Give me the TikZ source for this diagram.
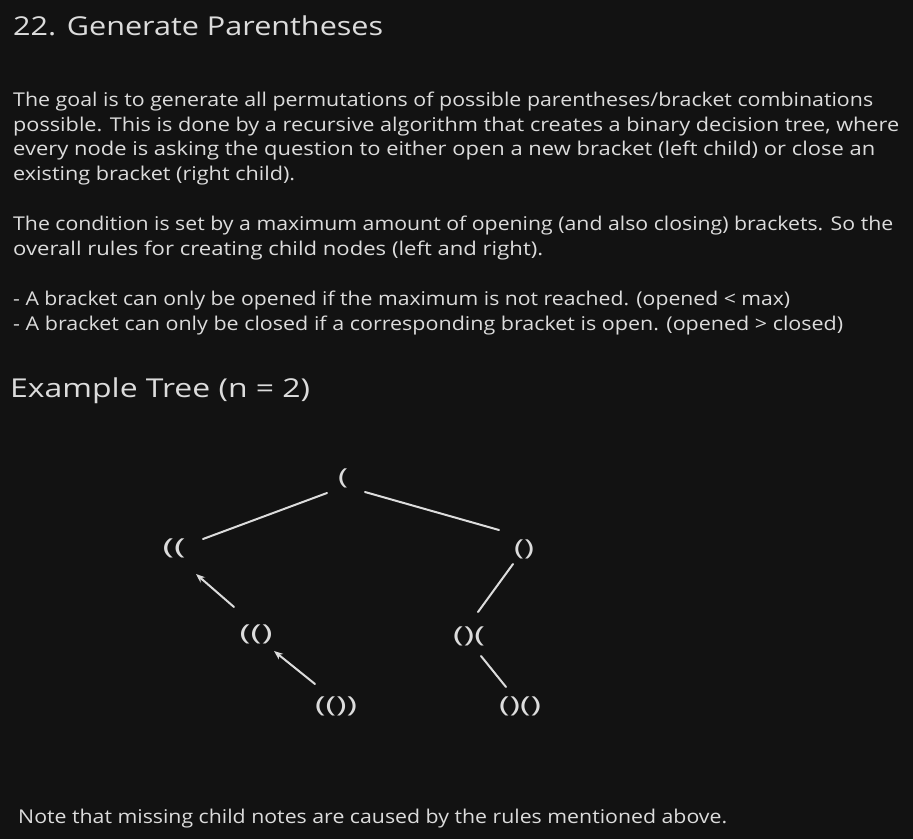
\documentclass[tikz,border=0pt]{standalone}
\usepackage{fontspec}
\usepackage{graphicx}
\setmainfont{Open Sans}
\usetikzlibrary{arrows.meta}
\definecolor{bgc}{HTML}{121212}
\definecolor{fgc}{HTML}{DCDCDC}
\newsavebox\fitbox
\newcommand{\fitline}[2]{\sbox\fitbox{#2}\pgfmathsetmacro\fitscale{#1/\the\wd\fitbox}\scalebox{\fitscale}[1]{\usebox\fitbox}}
\tikzset{
  txt/.style={anchor=base west, inner sep=0pt, text=fgc, font=\fontsize{19}{24}\selectfont},
  big/.style={anchor=base west, inner sep=0pt, text=fgc, font=\fontsize{26}{32}\selectfont},
  tn/.style={inner sep=2pt, text=fgc, font=\fontsize{22}{26}\selectfont},
  edge/.style={draw=fgc, line width=2pt, line cap=round},
  arr/.style={edge, -{Stealth[length=9pt,width=7pt]}}
}
\begin{document}
\begin{tikzpicture}[x=1pt,y=-1pt]
\fill[bgc] (0,0) rectangle (913,839);
\useasboundingbox (0,0) rectangle (913,839);
\node[big] (title) at (13,35) {\fitline{370}{22. Generate Parentheses}};
\node[txt] (p1) at (13,106) {\fitline{860}{The goal is to generate all permutations of possible parentheses/bracket combinations}};
\node[txt] (p2) at (13,131) {\fitline{886}{possible. This is done by a recursive algorithm that creates a binary decision tree, where}};
\node[txt] (p3) at (13,155) {\fitline{862}{every node is asking the question to either open a new bracket (left child) or close an}};
\node[txt] (p4) at (13,180) {\fitline{282}{existing bracket (right child).}};
\node[txt] (q1) at (13,230) {\fitline{880}{The condition is set by a maximum amount of opening (and also closing) brackets. So the}};
\node[txt] (q2) at (13,255) {\fitline{530}{overall rules for creating child nodes (left and right).}};
\node[txt] (b1) at (13,305) {\fitline{777}{- A bracket can only be opened if the maximum is not reached. (opened < max)}};
\node[txt] (b2) at (13,330) {\fitline{830}{- A bracket can only be closed if a corresponding bracket is open. (opened > closed)}};
\node[big] (ex) at (10,397) {\fitline{300}{Example Tree (n = 2)}};
\node[txt] (note) at (18,823) {\fitline{709}{Note that missing child notes are caused by the rules mentioned above.}};
% tree
\node[tn] (r) at (343,478) {\fitline{10}{(}};
\node[tn] (l1) at (174,548) {\fitline{23}{((}};
\node[tn] (r1) at (524,549) {\fitline{20}{()}};
\node[tn] (l2) at (256,634) {\fitline{33}{(()}};
\node[tn] (r2) at (469,636) {\fitline{32}{()(}};
\node[tn] (l3) at (336,706) {\fitline{42}{(())}};
\node[tn] (r3) at (520,706) {\fitline{42}{()()}};
\coordinate (a1) at (327,493); \coordinate (a2) at (203,539);
\coordinate (b1s) at (365,492); \coordinate (b2e) at (499,530);
\draw[edge] (a1) -- (a2);
\draw[edge] (b1s) -- (b2e);
\coordinate (c1) at (513,564); \coordinate (c2) at (478,612);
\draw[edge] (c1) -- (c2);
\coordinate (d1) at (481,656); \coordinate (d2) at (506,687);
\draw[edge] (d1) -- (d2);
\coordinate (e1) at (234,607); \coordinate (e2) at (196,574);
\draw[arr] (e1) -- (e2);
\coordinate (f1) at (315,684); \coordinate (f2) at (274,651);
\draw[arr] (f1) -- (f2);
\end{tikzpicture}
\end{document}
